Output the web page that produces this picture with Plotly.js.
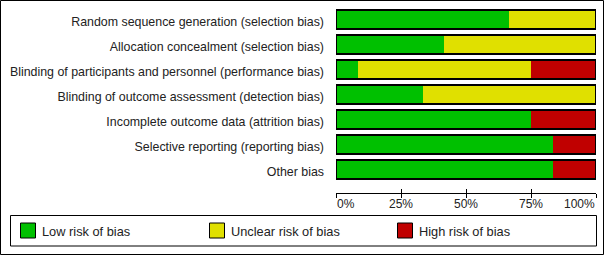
<!DOCTYPE html>
<html>
<head>
<meta charset="utf-8">
<script src="https://cdn.plot.ly/plotly-3.0.1.min.js"></script>
<style>
  html, body { margin: 0; padding: 0; background: #fff; }
  #chart { width: 606px; height: 256px; }
</style>
</head>
<body>
<div id="chart"></div>
<script>
// ---- data ----
var categories = [
  "Random sequence generation (selection bias)",
  "Allocation concealment (selection bias)",
  "Blinding of participants and personnel (performance bias)",
  "Blinding of outcome assessment (detection bias)",
  "Incomplete outcome data (attrition bias)",
  "Selective reporting (reporting bias)",
  "Other bias"
];
var lowRisk     = [66.7, 41.7,  8.3, 33.3, 75.0, 83.3, 83.3];
var unclearRisk = [33.3, 58.3, 66.7, 66.7,  0.0,  0.0,  0.0];
var highRisk    = [ 0.0,  0.0, 25.0,  0.0, 25.0, 16.7, 16.7];
var seriesNames = ["Low risk of bias", "Unclear risk of bias", "High risk of bias"];
var seriesColors = ["#00C000", "#E0E000", "#C00000"];
var tickValues = [0, 25, 50, 75, 100];
var tickLabels = ["0%", "25%", "50%", "75%", "100%"];

// ---- geometry ----
var W = 606, H = 256;
var ml = 336, mr = 10, mt = 7, mb = 63;
var pw = W - ml - mr, ph = H - mt - mb;
function px2x(p) { return (p - ml) / pw; }
function py2y(p) { return (mt + ph - p) / ph; }

var font = "Liberation Sans, Arial, sans-serif";
var textColor = "#222";
var seriesValues = [lowRisk, unclearRisk, highRisk];
var barWidth = 0.76;
var last = tickLabels.length - 1;

// end labels are aligned inward (first left-aligned, last right-aligned), the rest centred on the axis
var tickText = tickLabels.map(function (t, i) { return (i === 0 || i === last) ? "" : t; });

var traces = seriesValues.map(function (vals, i) {
  return {
    type: "bar", orientation: "h",
    x: vals, y: categories, name: seriesNames[i],
    width: barWidth,
    marker: { color: seriesColors[i], line: { width: 0 } },
    showlegend: false, hoverinfo: "skip",
    xaxis: "x", yaxis: "y"
  };
});

var totals = categories.map(function (c, k) {
  return lowRisk[k] + unclearRisk[k] + highRisk[k];
});
traces.push({
  type: "bar", orientation: "h",
  x: totals, y: categories,
  width: barWidth,
  marker: { color: "rgba(0,0,0,0)", line: { width: 2, color: "#000" } },
  showlegend: false, hoverinfo: "skip",
  xaxis: "x2", yaxis: "y"
});

// ---- legend (boxed key below the axis) ----
var legendLeft = 10, legendRight = 596.5, legendTop = 215, legendBottom = 246;
var keyStarts = [20, 209, 397];
var keySize = 16, keyTop = 222.5, keyTextGap = 4;
var shapes = [
  { // outer frame
    type: "rect", xref: "paper", yref: "paper",
    x0: px2x(0.5), x1: px2x(603.5), y0: py2y(254.5), y1: py2y(0.5),
    line: { color: "#000", width: 1 }, fillcolor: "rgba(0,0,0,0)", layer: "above"
  },
  { // legend box
    type: "rect", xref: "paper", yref: "paper",
    x0: px2x(legendLeft + 0.5), x1: px2x(legendRight), y0: py2y(legendBottom), y1: py2y(legendTop + 0.5),
    line: { color: "#000", width: 1 }, fillcolor: "rgba(0,0,0,0)", layer: "above"
  }
];
var annotations = [];
seriesNames.forEach(function (n, i) {
  var xs = keyStarts[i];
  shapes.push({
    type: "rect", xref: "paper", yref: "paper",
    x0: px2x(xs + 0.5), x1: px2x(xs + keySize - 0.5),
    y0: py2y(keyTop + keySize - 0.5), y1: py2y(keyTop + 0.5),
    line: { color: "#000", width: 1 }, fillcolor: seriesColors[i], layer: "above"
  });
  annotations.push({
    xref: "paper", yref: "paper",
    x: px2x(xs + keySize + keyTextGap), y: py2y(keyTop + keySize / 2 + 0.5),
    xanchor: "left", yanchor: "middle", showarrow: false,
    text: n, font: { family: font, size: 12.8, color: textColor }
  });
});

// end tick labels
[0, last].forEach(function (i) {
  annotations.push({
    xref: "x", yref: "paper",
    x: tickValues[i], y: py2y(204),
    xanchor: i === 0 ? "left" : "right", yanchor: "middle", showarrow: false,
    borderpad: 0,
    text: tickLabels[i], font: { family: font, size: 12, color: textColor }
  });
});

var layout = {
  width: W, height: H,
  margin: { l: ml, r: mr, t: mt, b: mb, pad: 0 },
  paper_bgcolor: "#fff", plot_bgcolor: "#fff",
  font: { family: font, size: 12, color: textColor },
  barmode: "stack",
  showlegend: false,
  xaxis: {
    range: [0, 100], fixedrange: true,
    tickvals: tickValues, ticktext: tickText,
    ticks: "outside", ticklen: 4, tickwidth: 1, tickcolor: "#000",
    showline: true, linecolor: "#000", linewidth: 1,
    showgrid: false, zeroline: false,
    tickfont: { family: font, size: 12, color: textColor },
    ticklabelstandoff: -4
  },
  xaxis2: {
    overlaying: "x", anchor: "y", side: "bottom",
    range: [0, 100], fixedrange: true,
    tickvals: tickValues, showticklabels: false,
    ticks: "inside", ticklen: 4, tickwidth: 1, tickcolor: "#000",
    showline: false, showgrid: false, zeroline: false
  },
  yaxis: {
    type: "category", categoryarray: categories, categoryorder: "array",
    range: [6.94, -0.5], fixedrange: true,
    ticks: "", showline: false, showgrid: false, zeroline: false,
    ticklabelstandoff: 11,
    ticklabelshift: -2,
    tickfont: { family: font, size: 12.4, color: textColor }
  },
  shapes: shapes,
  annotations: annotations
};

Plotly.newPlot("chart", traces, layout, { staticPlot: true, displayModeBar: false });
</script>
</body>
</html>
